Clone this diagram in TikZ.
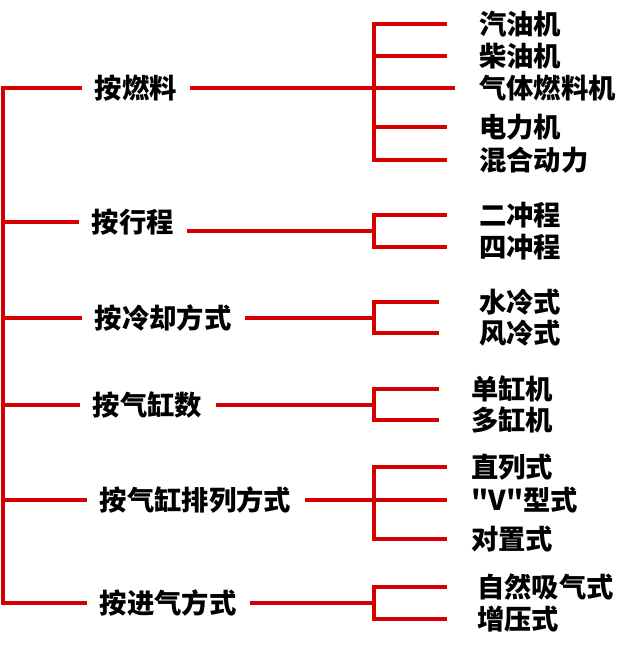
\documentclass[tikz,border=0pt]{standalone}
\usepackage{fontspec}
\newfontfamily\cjk{Noto Sans CJK SC}
\usepackage{xcolor}
\usepackage{tikz}
\usetikzlibrary{positioning, calc}

\definecolor{treered}{RGB}{214,0,0}

\begin{document}
\begin{tikzpicture}[
    x=0.75pt, y=-0.75pt,
    catbox/.style={inner xsep=11pt, inner ysep=0pt, anchor=west, font=\cjk\bfseries\fontsize{20.5}{24}\selectfont},
    leafbox/.style={inner xsep=0pt, inner ysep=0pt, anchor=west, font=\cjk\bfseries\fontsize{20.5}{24}\selectfont},
    line/.style={line width=2.3pt, color=treered, line cap=rect},
    tick/.style={line, shorten >=25.5pt}
]
    \useasboundingbox (0,0) rectangle (640,646);

    % Spine on the left
    \coordinate (top) at (3,88);
    \coordinate (bottom) at (3,603);
    \draw [line] (top) -- (bottom);

    % Classification criteria
    \node (fuel) [catbox] at (80,88) {按燃料};
    \node (stroke) [catbox] at (77,222) {按行程};
    \node (cooling) [catbox] at (80,318) {按冷却方式};
    \node (cylnum) [catbox] at (78,405) {按气缸数};
    \node (layout) [catbox] at (85,500) {按气缸排列方式};
    \node (intake) [catbox] at (85,603) {按进气方式};

    \foreach \c in {fuel, stroke, cooling, cylnum, layout, intake}
        \draw [line] (\c.west -| top) -- (\c.west);

    % Bracket joints
    \coordinate (b1) at (374,88);
    \coordinate (b2) at (374,231);
    \coordinate (b3) at (374,318);
    \coordinate (b4) at (374,405);
    \coordinate (b5) at (374,500);
    \coordinate (b6) at (374,603);

    % By fuel
    \node (petrol) [leafbox] at (479,24) {汽油机};
    \node (diesel) [leafbox] at (479,56) {柴油机};
    \node (gas) [leafbox] at (479,88) {气体燃料机};
    \node (electric) [leafbox] at (479,127) {电力机};
    \node (hybrid) [leafbox] at (479,160) {混合动力};
    \draw [line] (fuel.east) -- (b1);
    \draw [line] (petrol.west -| b1) -- (hybrid.west -| b1);
    \foreach \n in {petrol, diesel, electric, hybrid}
        \draw [tick] (\n.west -| b1) -- (\n.west);
    \draw [tick, shorten >=19.5pt] (b1) -- (gas.west);

    % By stroke
    \node (twostroke) [leafbox] at (479,215) {二冲程};
    \node (fourstroke) [leafbox] at (479,247) {四冲程};
    \draw [line] (stroke.east |- b2) -- (b2);
    \draw [line] (twostroke.west -| b2) -- (fourstroke.west -| b2);
    \foreach \n in {twostroke, fourstroke}
        \draw [tick] (\n.west -| b2) -- (\n.west);

    % By cooling
    \node (water) [leafbox] at (479,302) {水冷式};
    \node (air) [leafbox] at (479,333) {风冷式};
    \draw [line] (cooling.east) -- (b3);
    \draw [line] (water.west -| b3) -- (air.west -| b3);
    \foreach \n in {water, air}
        \draw [tick, shorten >=31.5pt] (\n.west -| b3) -- (\n.west);

    % By number of cylinders
    \node (single) [leafbox] at (471,389) {单缸机};
    \node (multi) [leafbox] at (471,420) {多缸机};
    \draw [line] (cylnum.east) -- (b4);
    \draw [line] (single.west -| b4) -- (multi.west -| b4);
    \foreach \n in {single, multi}
        \draw [tick] (\n.west -| b4) -- (\n.west);

    % By cylinder arrangement
    \node (inline) [leafbox] at (471,467) {直列式};
    \node (vtype) [leafbox] at (471,500) {"V"型式};
    \node (opposed) [leafbox] at (471,539) {对置式};
    \draw [line] (layout.east) -- (b5);
    \draw [line] (inline.west -| b5) -- (opposed.west -| b5);
    \foreach \n in {inline, vtype, opposed}
        \draw [tick, shorten >=19.5pt] (\n.west -| b5) -- (\n.west);

    % By intake
    \node (natural) [leafbox] at (477,587) {自然吸气式};
    \node (boost) [leafbox] at (477,619) {增压式};
    \draw [line] (intake.east) -- (b6);
    \draw [line] (natural.west -| b6) -- (boost.west -| b6);
    \foreach \n in {natural, boost}
        \draw [tick, shorten >=24pt] (\n.west -| b6) -- (\n.west);

\end{tikzpicture}
\end{document}
